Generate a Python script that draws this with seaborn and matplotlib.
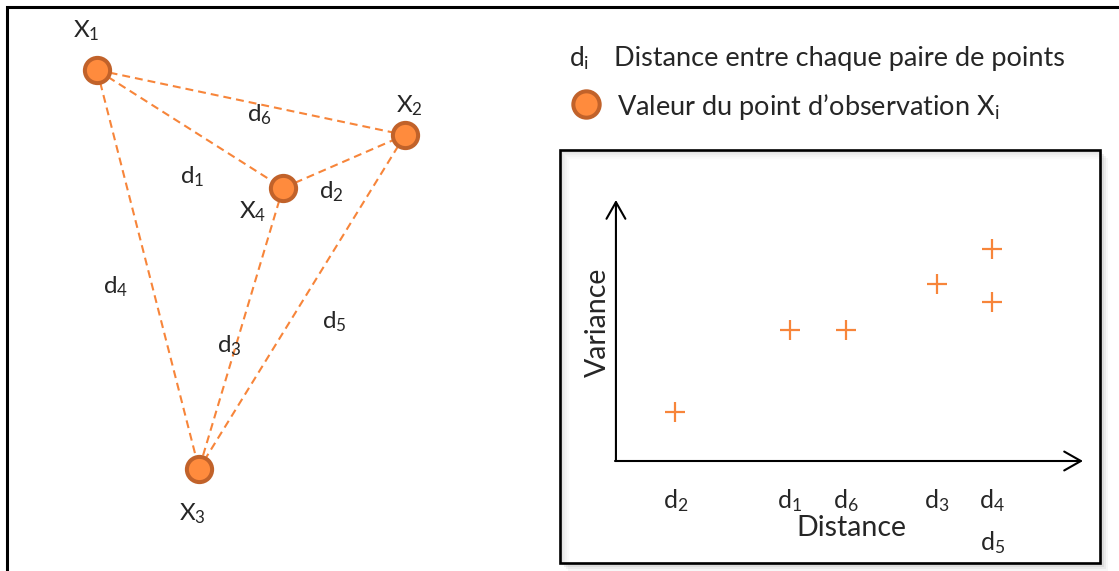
import matplotlib
matplotlib.use("Agg")
import matplotlib.pyplot as plt
import seaborn as sns
import pandas as pd
from matplotlib.patches import Rectangle

# observation points of the left sketch (drawing units = pixels, y downwards)
obs_names = ["X$_1$", "X$_2$", "X$_3$", "X$_4$"]
obs_x = [97, 405, 199, 283]
obs_y = [70, 135, 469, 188]

# each distance d_i joins a pair of observations
dist_names = ["d$_1$", "d$_2$", "d$_3$", "d$_4$", "d$_5$", "d$_6$"]
dist_pairs = [(0, 3), (3, 1), (3, 2), (0, 2), (1, 2), (0, 1)]

# variogram cloud: distance and variance of every pair
cloud_dist = [3.74, 1.29, 6.88, 8.06, 8.06, 4.93]
cloud_var = [5.02, 1.88, 6.79, 8.13, 6.10, 5.02]

legend_text = ["Distance entre chaque paire de points",
               "Valeur du point d\u2019observation X$_{\\mathrm{i}}$"]

ORANGE = "#F7853A"
RING = "#C1622A"
FILL = "#FF8B3D"

sns.set_style("white")
plt.rcParams["font.family"] = ["Lato", "DejaVu Sans"]
plt.rcParams["mathtext.fontset"] = "custom"
plt.rcParams["mathtext.rm"] = "Lato"
plt.rcParams["mathtext.it"] = "Lato:italic"

fig = plt.figure(figsize=(11.19, 5.71), dpi=100)
bg = fig.add_axes([0, 0, 1, 1])
bg.set_xlim(0, 1119)
bg.set_ylim(571, 0)
bg.axis("off")

# outer frame (only left and top edges are visible)
bg.plot([7, 7, 1119], [571, 7, 7], color="black", lw=2.2, solid_joinstyle="miter")

# dashed links between every pair of points
for (i, j) in dist_pairs:
    bg.plot([obs_x[i], obs_x[j]], [obs_y[i], obs_y[j]], color=ORANGE,
            lw=1.5, ls=(0, (3.8, 2.4)), zorder=2)

sns.scatterplot(x=obs_x, y=obs_y, ax=bg, s=330, color=FILL, edgecolor=RING,
                linewidth=2.9, zorder=3, legend=False)

# labels of the sketch (left edge, baseline)
obs_lab_pos = [(73, 37), (396, 112), (179, 520), (239, 218)]
for name, (lx, ly) in zip(obs_names, obs_lab_pos):
    bg.text(lx, ly, name, fontsize=17.5, ha="left", va="baseline")
dist_lab_pos = [(180, 183), (319, 198), (217, 352), (103, 293), (322, 328), (247, 121)]
for name, (lx, ly) in zip(dist_names, dist_lab_pos):
    bg.text(lx, ly, name, fontsize=17.5, ha="left", va="baseline")

# legend
bg.text(569, 66, "d$_{\\mathrm{i}}$", fontsize=19, ha="left", va="baseline")
bg.text(614, 66, legend_text[0], fontsize=19.5, ha="left", va="baseline")
bg.scatter([586], [104], s=360, color=FILL, edgecolor=RING, linewidth=2.9, zorder=3)
bg.text(617, 115, legend_text[1], fontsize=19.5, ha="left", va="baseline")

# framed box with a soft shadow
for off, a in [(8, 0.08), (6, 0.12), (4, 0.18), (2, 0.25)]:
    bg.add_patch(Rectangle((560 + off, 150 + off), 540, 413, facecolor="#9a9a9a",
                           edgecolor="none", alpha=a, zorder=1))
bg.add_patch(Rectangle((560, 150), 540, 413, facecolor="white", edgecolor="none", zorder=1.1))
for off, a in [(2, 0.22), (4, 0.14), (6, 0.08), (8, 0.04)]:
    bg.plot([560 + off, 560 + off, 1100], [563, 150 + off, 150 + off], color="#8a8a8a",
            lw=1.6, alpha=a, zorder=1.2)
bg.add_patch(Rectangle((560, 150), 540, 413, facecolor="none", edgecolor="black",
                       lw=1.9, zorder=1.3, joinstyle="miter"))

# variogram cloud
cloud = pd.DataFrame({"name": dist_names, "distance": cloud_dist, "variance": cloud_var})
ax = fig.add_axes([615 / 1119, 1 - 461 / 571, (1083 - 615) / 1119, (461 - 200) / 571])
ax.patch.set_alpha(0)
sns.scatterplot(data=cloud, x="distance", y="variance", ax=ax, marker="+", s=190,
                color=ORANGE, linewidth=1.6, legend=False)
ax.set_xlim(0, 10)
ax.set_ylim(0, 10)
for s in ax.spines.values():
    s.set_visible(False)

ticks = cloud.groupby("distance")["name"].apply(lambda n: "\n".join(sorted(n)))
ax.set_xticks(ticks.index)
ax.set_xticklabels(ticks.values, fontsize=18, va="top")
for lab in ax.get_xticklabels():
    lab.set_linespacing(1.75)
ax.set_yticks([])
ax.tick_params(axis="x", direction="out", length=9.5, width=1.5, color="black", pad=9)

arrow = dict(arrowstyle="->,head_length=1.2,head_width=0.68", lw=1.5, color="black",
             shrinkA=0, shrinkB=0, mutation_scale=10)
ax.annotate("", xy=(1, 0), xytext=(0, 0), xycoords="axes fraction", arrowprops=arrow)
ax.annotate("", xy=(0.002, 1), xytext=(0.002, 0), xycoords="axes fraction", arrowprops=arrow)

ax.set_xlabel("Distance", fontsize=20.5)
ax.set_ylabel("Variance", fontsize=20.5)
ax.xaxis.set_label_coords(0.505, -0.205)
ax.yaxis.set_label_coords(-0.009, 0.53)

fig.savefig("out.png", dpi=100)
